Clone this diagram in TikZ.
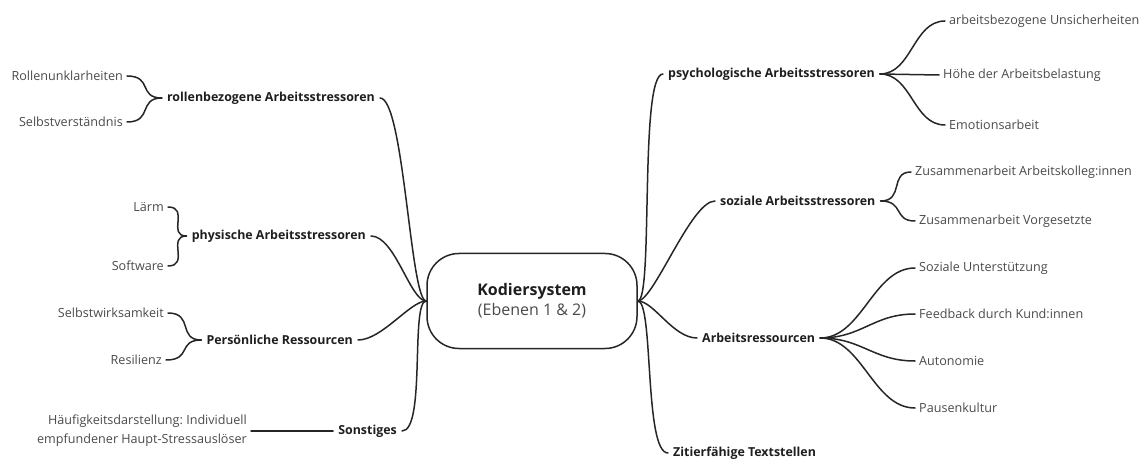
\documentclass[tikz,border=0pt]{standalone}
\usepackage{fontspec}
\setmainfont{Open Sans}
\frenchspacing
\definecolor{leafc}{HTML}{4A4A4A}
\definecolor{mainc}{HTML}{1E1E1E}
\definecolor{linec}{HTML}{262626}
\begin{document}
\begin{tikzpicture}[x=1pt,y=-1pt,
  leaf/.style={font=\fontsize{12.6}{15}\selectfont, text=leafc, inner sep=4pt},
  branch/.style={font=\bfseries\fontsize{12.4}{15}\selectfont, text=mainc, inner sep=5pt},
  conn/.style={draw=linec, line width=1.5pt, line cap=round},
  core/.style={draw=linec, line width=1.5pt, rounded corners=32pt, minimum width=210pt, minimum height=95pt, align=center, text=mainc, inner sep=0pt}
]
\useasboundingbox (0,0) rectangle (1143,462);
% centre
\node[core] (c) at (532,301) {{\bfseries\fontsize{16}{22}\selectfont Kodiersystem}\\[3pt]{\fontsize{16}{19}\selectfont\color{leafc}(Ebenen 1 \& 2)}};
% left branches
\node[branch, anchor=east] (rb) at (380,98) {rollenbezogene Arbeitsstressoren};
\node[branch, anchor=east] (ph) at (371,236) {physische Arbeitsstressoren};
\node[branch, anchor=east] (pr) at (358,340) {Persönliche Ressourcen};
\node[branch, anchor=east] (so) at (402,431) {Sonstiges};
% left leaves
\node[leaf, anchor=east] (l1) at (127,76) {Rollenunklarheiten};
\node[leaf, anchor=east] (l2) at (127,122) {Selbstverständnis};
\node[leaf, anchor=east] (l3) at (168,207) {Lärm};
\node[leaf, anchor=east] (l4) at (168,266) {Software};
\node[leaf, anchor=east] (l5) at (168,313) {Selbstwirksamkeit};
\node[leaf, anchor=east] (l6) at (166,360) {Resilienz};
\node[leaf, anchor=east, align=right, font=\fontsize{12.6}{19}\selectfont] (l7) at (251,431) {Häufigkeitsdarstellung: Individuell\\empfundener Haupt-Stressauslöser};
% right branches
\node[branch, anchor=west] (ps) at (663,74) {psychologische Arbeitsstressoren};
\node[branch, anchor=west] (sz) at (715,201) {soziale Arbeitsstressoren};
\node[branch, anchor=west] (ar) at (697,338) {Arbeitsressourcen};
\node[branch, anchor=west] (zi) at (668,453) {Zitierfähige Textstellen};
% right leaves
\node[leaf, anchor=west] (r1) at (945,21) {arbeitsbezogene Unsicherheiten};
\node[leaf, anchor=west] (r2) at (939,75) {Höhe der Arbeitsbelastung};
\node[leaf, anchor=west] (r3) at (945,125) {Emotionsarbeit};
\node[leaf, anchor=west] (r4) at (911,172) {Zusammenarbeit Arbeitskolleg:innen};
\node[leaf, anchor=west] (r5) at (915,221) {Zusammenarbeit Vorgesetzte};
\node[leaf, anchor=west] (r6) at (915,268) {Soziale Unterstützung};
\node[leaf, anchor=west] (r7) at (915,314) {Feedback durch Kund:innen};
\node[leaf, anchor=west] (r8) at (915,361) {Autonomie};
\node[leaf, anchor=west] (r9) at (915,408) {Pausenkultur};
% hub connectors left
\foreach \n in {rb,ph,pr,so}
  \draw[conn] (\n.east) .. controls +(24,0) and +(-16,0) .. (c.west);
% hub connectors right
\foreach \n in {ps,sz,ar,zi}
  \draw[conn] (c.east) .. controls +(16,0) and +(-24,0) .. (\n.west);
% left braces
\draw[conn] (l1.east) .. controls +(26,0) and +(-24,0) .. (rb.west);
\draw[conn] (l2.east) .. controls +(26,0) and +(-24,0) .. (rb.west);
\draw[conn] (l3.east) .. controls +(22,0) and +(-20,0) .. (ph.west);
\draw[conn] (l4.east) .. controls +(22,0) and +(-20,0) .. (ph.west);
\draw[conn] (l5.east) .. controls +(26,0) and +(-24,0) .. (pr.west);
\draw[conn] (l6.east) .. controls +(26,0) and +(-24,0) .. (pr.west);
\draw[conn] (l7.east) -- (so.west);
% right leaves connectors
\draw[conn] (ps.east) .. controls +(32,0) and +(-32,0) .. (r1.west);
\draw[conn] (ps.east) -- (r2.west);
\draw[conn] (ps.east) .. controls +(32,0) and +(-32,0) .. (r3.west);
\draw[conn] (sz.east) .. controls +(24,0) and +(-22,0) .. (r4.west);
\draw[conn] (sz.east) .. controls +(24,0) and +(-22,0) .. (r5.west);
\foreach \n in {r6,r7,r8,r9}
  \draw[conn] (ar.east) .. controls +(42,0) and +(-42,0) .. (\n.west);
\end{tikzpicture}
\end{document}
